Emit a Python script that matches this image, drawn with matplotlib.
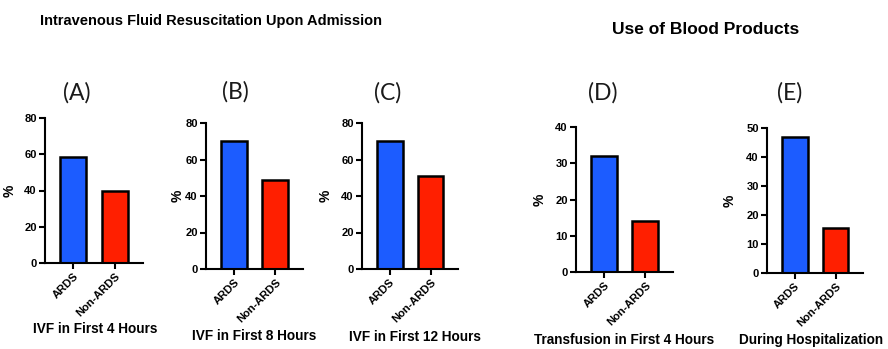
import matplotlib
matplotlib.use('Agg')
import matplotlib.pyplot as plt

W, H = 888, 349

groups = ['ARDS', 'Non-ARDS']
panel_tags = ['(A)', '(B)', '(C)', '(D)', '(E)']
panel_titles = ['IVF in First 4 Hours', 'IVF in First 8 Hours', 'IVF in First 12 Hours',
                'Transfusion in First 4 Hours', 'During Hospitalization']
ivf_4h = [58.5, 40]
ivf_8h = [70, 48.5]
ivf_12h = [70, 51]
transfusion_4h = [32, 14]
transfusion_hosp = [47, 15.5]
values = [ivf_4h, ivf_8h, ivf_12h, transfusion_4h, transfusion_hosp]
y_max = [80, 80, 80, 40, 50]
y_step = [20, 20, 20, 10, 10]

# axes boxes in pixels: left, right, top (y_max), bottom (y=0)
boxes = [(45, 143, 118, 263), (206, 303, 123, 269), (362, 458, 123, 269),
         (576, 673, 127, 272), (767, 863, 128, 273)]
ylabel_x = [17, 185, 333, 547, 737]
tag_pos = [(77, 93), (235, 92), (388, 93), (603, 93), (790, 93)]
title_pos = [(95, 329), (254, 336), (415, 337), (624, 340), (811, 340)]

colors = ['#1c5cff', '#ff1f00']
bold = 'Liberation Sans'

fig = plt.figure(figsize=(W / 100, H / 100), dpi=100)

for i, (l, r, t, b) in enumerate(boxes):
    ax = fig.add_axes([l / W, 1 - b / H, (r - l) / W, (b - t) / H])
    ax.bar([0, 1], values[i], width=0.63, color=colors, edgecolor='black', linewidth=1.8)
    ax.set_xlim(-0.68, 1.67)
    ax.set_ylim(0, y_max[i])
    ax.set_yticks(range(0, y_max[i] + 1, y_step[i]))
    ax.set_xticks([0, 1])
    ax.set_xticklabels(groups, rotation=45, ha='right', va='top', rotation_mode='anchor')
    for s in ['top', 'right']:
        ax.spines[s].set_visible(False)
    for s in ['left', 'bottom']:
        ax.spines[s].set_linewidth(1.5)
    ax.tick_params(width=1.5, length=4, labelsize=8, pad=2)
    for lab in ax.get_xticklabels() + ax.get_yticklabels():
        lab.set_fontfamily(bold)
        lab.set_fontweight('bold')
    ax.set_ylabel('%', fontsize=10, fontweight='bold', family=bold)
    ax.yaxis.set_label_coords((ylabel_x[i] - l) / (r - l), 0.5)
    ax.patch.set_alpha(0)

    tx, ty = tag_pos[i]
    fig.text(tx / W, 1 - ty / H, panel_tags[i], fontsize=16.5, family='Lato',
             ha='center', va='center', color='#1a1a1a')
    px, py = title_pos[i]
    fig.text(px / W, 1 - py / H, panel_titles[i], fontsize=9.8, fontweight='bold',
             family=bold, ha='center', va='center')

fig.text(40 / W, 1 - 21 / H, 'Intravenous Fluid Resuscitation Upon Admission',
         fontsize=10.5, fontweight='bold', family=bold, ha='left', va='center')
fig.text(612 / W, 1 - 29 / H, 'Use of Blood Products',
         fontsize=12.5, fontweight='bold', family=bold, ha='left', va='center')

fig.savefig('out.png', dpi=100, facecolor='white')
